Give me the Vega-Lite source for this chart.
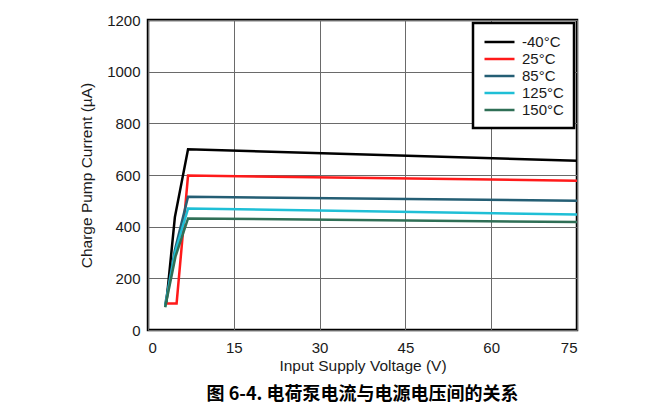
{
  "$schema": "https://vega.github.io/schema/vega-lite/v6.json",
  "width": 429,
  "height": 310,
  "autosize": "none",
  "padding": {"left": 148, "top": 20, "right": 87, "bottom": 75},
  "background": "white",
  "title": {
    "text": "图 6-4. 电荷泵电流与电源电压间的关系",
    "orient": "bottom",
    "anchor": "middle",
    "font": "Noto Sans CJK SC",
    "fontSize": 18,
    "fontWeight": "bold",
    "color": "#000000",
    "offset": 12
  },
  "config": {
    "font": "Liberation Sans",
    "view": {"stroke": "#000000", "strokeWidth": 2.5},
    "axis": {
      "labelFont": "Liberation Sans",
      "titleFont": "Liberation Sans",
      "labelFontSize": 15,
      "titleFontSize": 15.5,
      "titleFontWeight": "normal",
      "labelColor": "#1a1a1a",
      "titleColor": "#1a1a1a",
      "grid": true,
      "gridColor": "#6a6a6a",
      "gridWidth": 1,
      "gridOpacity": 1,
      "ticks": false,
      "domain": false
    }
  },
  "data": {
    "values": [
      {"T": "-40°C", "V": 3.2, "I": 103},
      {"T": "-40°C", "V": 4.7, "I": 437},
      {"T": "-40°C", "V": 7, "I": 700},
      {"T": "-40°C", "V": 75, "I": 655},
      {"T": "25°C", "V": 3.2, "I": 103},
      {"T": "25°C", "V": 5.0, "I": 103},
      {"T": "25°C", "V": 7, "I": 598},
      {"T": "25°C", "V": 75, "I": 578},
      {"T": "85°C", "V": 3.0, "I": 97},
      {"T": "85°C", "V": 4.7, "I": 310},
      {"T": "85°C", "V": 7, "I": 516},
      {"T": "85°C", "V": 75, "I": 500},
      {"T": "125°C", "V": 3.0, "I": 90},
      {"T": "125°C", "V": 4.7, "I": 298},
      {"T": "125°C", "V": 7, "I": 470},
      {"T": "125°C", "V": 75, "I": 447},
      {"T": "150°C", "V": 3.0, "I": 88},
      {"T": "150°C", "V": 4.8, "I": 284},
      {"T": "150°C", "V": 7, "I": 432},
      {"T": "150°C", "V": 75, "I": 418}
    ]
  },
  "mark": {"type": "line", "strokeWidth": 2.5, "clip": true},
  "encoding": {
    "x": {
      "field": "V",
      "type": "quantitative",
      "scale": {"domain": [0, 75], "nice": false},
      "axis": {
        "values": [0, 15, 30, 45, 60, 75],
        "format": "d",
        "title": "Input Supply Voltage (V)",
        "labelPadding": 10,
        "titlePadding": 3
      }
    },
    "y": {
      "field": "I",
      "type": "quantitative",
      "scale": {"domain": [0, 1200], "nice": false},
      "axis": {
        "values": [0, 200, 400, 600, 800, 1000, 1200],
        "format": "d",
        "title": "Charge Pump Current (µA)",
        "labelPadding": 8,
        "titlePadding": 12
      }
    },
    "color": {
      "field": "T",
      "type": "nominal",
      "sort": ["-40°C", "25°C", "85°C", "125°C", "150°C"],
      "scale": {
        "domain": ["-40°C", "25°C", "85°C", "125°C", "150°C"],
        "range": ["#000000", "#ff1a1a", "#245e74", "#1fbfd6", "#2f6f56"]
      },
      "legend": {
        "title": null,
        "orient": "none",
        "legendX": 325,
        "legendY": 3,
        "symbolType": "M-1,0H3",
        "symbolSize": 225,
        "symbolStrokeWidth": 2.5,
        "symbolFillColor": "transparent",
        "labelFont": "Liberation Sans",
        "labelFontSize": 15,
        "labelColor": "#1a1a1a",
        "labelOffset": 21,
        "padding": 10,
        "rowPadding": 0,
        "strokeColor": "#000000",
        "fillColor": "#ffffff",
        "encode": {"legend": {"update": {"strokeWidth": {"value": 2.5}}}}
      }
    }
  }
}
